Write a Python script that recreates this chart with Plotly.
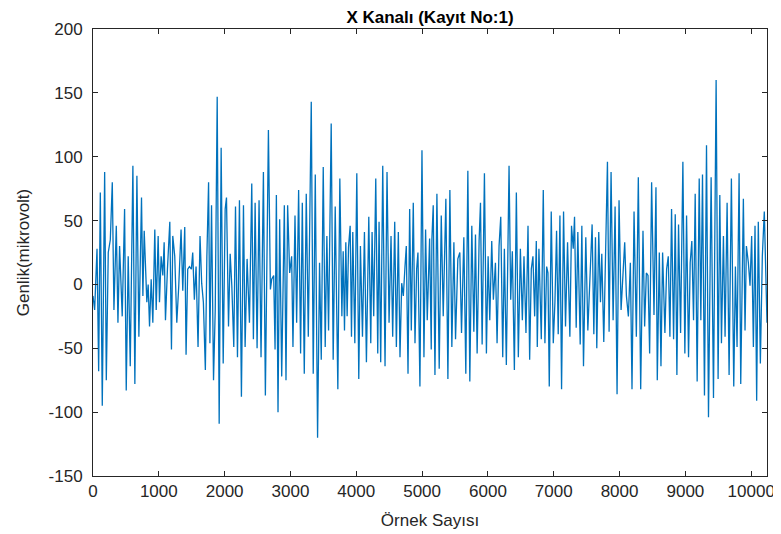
import plotly.graph_objects as go

# Peak / trough values, by segment (sample index, amplitude in microvolts)
samples_1 = [0, 25, 61, 86, 111, 141, 177, 202, 232, 263,
             293, 318, 354, 379, 404, 444, 480, 505, 535, 566,
             606, 636, 667, 697, 737, 758, 778, 798, 818, 838,
             859, 884, 909, 939, 960, 990, 1010, 1035, 1061, 1081,
             1101, 1131, 1167, 1192, 1212, 1242, 1273, 1303, 1338, 1364,
             1394, 1414, 1439, 1465, 1495, 1515, 1540, 1566, 1596, 1626,
             1651, 1677, 1707]
values_1 = [-9, -20, 28, -68, 72, -95, 88, -75, 25, 35,
            80, -20, 46, -30, 30, -25, 59, -83, 22, -64,
            93, -78, 85, -41, 68, -9, 42, 7, -14, 0,
            -33, 4, -30, 43, -20, 38, -14, 22, 7, 33,
            -28, 12, 49, -51, 38, 22, -30, -1, 43, -5,
            45, -55, 12, 14, 12, 25, -12, 14, -49, 38,
            1, -14, -67]

samples_2 = [1730, 1756, 1776, 1801, 1831, 1857, 1887, 1917, 1947, 1978,
             2008, 2028, 2059, 2084, 2109, 2139, 2165, 2195, 2225, 2255,
             2286, 2311, 2341, 2377, 2412, 2437, 2463, 2493, 2523, 2553,
             2589, 2619, 2665, 2695, 2715, 2745, 2766, 2786, 2811, 2836,
             2867, 2907, 2932, 2957, 2988, 3018, 3038, 3069, 3094, 3124,
             3154, 3180, 3210, 3240, 3271, 3316, 3346, 3377, 3412]
values_2 = [22, 80, -46, 62, -75, -20, 147, -109, 107, -62,
            59, 68, -33, 24, -1, -49, 61, -57, 66, -88,
            62, -49, 20, -30, 79, -43, 64, -50, 66, -57,
            88, -87, 121, -4, 4, 7, -51, 70, -100, 51,
            -72, 62, -75, 62, 9, 22, -49, 54, -30, 74,
            -54, 64, -70, 71, -41, 143, -70, 86, -120]

samples_3 = [3442, 3468, 3498, 3528, 3553, 3579, 3619, 3649, 3680, 3720,
             3750, 3781, 3801, 3821, 3841, 3861, 3882, 3907, 3927, 3947,
             3978, 4008, 4038, 4063, 4094, 4124, 4154, 4190, 4220, 4240,
             4265, 4296, 4326, 4346, 4371, 4402, 4437, 4467, 4498, 4528,
             4553, 4584, 4609, 4639, 4664, 4690, 4715, 4740, 4760, 4786,
             4811, 4836, 4866, 4892, 4917, 4937, 4967, 4998, 5028, 5053,
             5078, 5114, 5139]
values_3 = [17, -59, 92, -49, 38, -36, 126, -59, 61, -82,
            83, -25, 26, -36, 33, -25, 29, 46, -41, 41,
            -46, 87, -74, 30, -41, 41, -61, 53, -46, 41,
            -25, 83, -54, 49, -61, 93, -64, 88, -30, 38,
            -41, 49, -49, 41, -57, 1, -9, 14, 30, -70,
            59, -36, 64, -46, 12, 25, -80, 105, -57, 43,
            -28, 36, -51]

samples_4 = [5149, 5169, 5195, 5225, 5260, 5291, 5321, 5361, 5392, 5422,
             5452, 5483, 5508, 5543, 5573, 5599, 5634, 5664, 5695, 5725,
             5755, 5786, 5811, 5836, 5866, 5887, 5912, 5947, 5977, 6003,
             6028, 6058, 6083, 6114, 6139, 6169, 6195, 6225, 6250, 6280,
             6321, 6346, 6371, 6402, 6432, 6462, 6493, 6523, 6548, 6578,
             6609, 6634, 6659, 6684, 6710, 6735, 6750, 6775, 6811, 6841]
values_4 = [36, 62, -71, 71, -66, 54, -25, 67, -74, 74,
            -49, 33, -43, 20, 25, -38, 37, -70, 89, -76,
            46, -37, 39, -54, 34, 64, -47, 87, -54, 22,
            -28, 34, -12, 17, -46, 30, 53, -57, 28, -63,
            93, -12, 26, -67, 72, -57, 28, -28, 22, -38,
            46, -59, 12, 22, -25, 34, -49, 28, -43, 74]

samples_5 = [6866, 6892, 6912, 6932, 6962, 6993, 7018, 7043, 7068, 7094,
             7119, 7149, 7179, 7210, 7245, 7270, 7296, 7316, 7341, 7366,
             7402, 7427, 7452, 7487, 7518, 7548, 7583, 7609, 7634, 7654,
             7684, 7710, 7730, 7760, 7785, 7816, 7841, 7871, 7902, 7932,
             7962, 7992, 8023, 8048, 8078, 8104, 8134, 8164, 8189, 8220,
             8255, 8285, 8321, 8356, 8381, 8407, 8432, 8457, 8487, 8523,
             8553]
values_5 = [-46, 14, 9, -80, 57, -46, -14, 42, -39, 54,
            -82, 57, -33, 33, -41, 46, 28, 53, -34, 41,
            -47, 46, -64, 37, -36, 1, 47, -39, 37, -50,
            41, -14, 24, -45, 25, 96, -37, 88, -28, 61,
            -86, 66, -20, 7, 33, -9, -25, 17, -82, 57,
            -41, 84, -82, 42, -33, 9, 7, -54, 80, -24,
            76]

samples_6 = [8573, 8604, 8629, 8654, 8689, 8715, 8740, 8765, 8790, 8821,
             8846, 8871, 8896, 8927, 8962, 8992, 9018, 9048, 9073, 9098,
             9124, 9149, 9179, 9210, 9235, 9260, 9290, 9321, 9351, 9391,
             9427, 9467, 9497, 9523, 9548, 9578, 9603, 9634, 9664, 9699,
             9735, 9760, 9785, 9816, 9841, 9881, 9906, 9927, 9957, 9982,
             10007, 10033, 10058, 10083, 10108, 10139, 10169, 10199, 10240]
values_6 = [-75, 25, -64, 25, -38, 12, 22, -41, 59, -43,
            55, -71, 47, -38, 96, -54, 54, -57, 17, 34,
            -28, 71, -76, 83, -28, 86, -87, 109, -104, 84,
            -89, 160, -74, 70, -46, 38, -41, 64, -71, 83,
            -80, 14, -49, 87, -78, 67, -36, 30, 17, -1,
            38, -49, 46, -91, 49, -62, 22, 57, -30]

x_ticks = [0, 1000, 2000, 3000, 4000, 5000, 6000, 7000, 8000, 9000, 10000]
x_tick_labels = ["0", "1000", "2000", "3000", "4000", "5000", "6000", "7000", "8000", "9000", "10000"]
y_ticks = [-150, -100, -50, 0, 50, 100, 150, 200]
y_tick_labels = ["-150", "-100", "-50", "0", "50", "100", "150", "200"]

title_text = "X Kanalı (Kayıt No:1)"
x_title = "Örnek Sayısı"
y_title = "Genlik(mikrovolt)"

x = samples_1 + samples_2 + samples_3 + samples_4 + samples_5 + samples_6
y = values_1 + values_2 + values_3 + values_4 + values_5 + values_6
assert len(x) == len(y)

axis_col = "#262626"
font_fam = "Liberation Sans, Arial, sans-serif"

fig = go.Figure(go.Scatter(x=x, y=y, mode="lines",
                           line=dict(color="#0072BD", width=1.3),
                           showlegend=False, hoverinfo="x+y"))

# The page body adds an 8px offset, so the figure is sized to fit the 781x534 window.
fig.update_layout(
    width=773, height=526,
    margin=dict(l=85, r=14, t=21, b=58),
    paper_bgcolor="white", plot_bgcolor="white",
    font=dict(family=font_fam, size=17, color=axis_col),
    title=dict(text="<b>" + title_text + "</b>", x=0.5, xref="paper",
               xanchor="center", y=1 - 9 / 526, yref="container", yanchor="middle",
               automargin=False,
               font=dict(family=font_fam, size=17, color="black")),
)
fig.update_xaxes(range=[0, 10240], tickvals=x_ticks, ticktext=x_tick_labels,
                 ticks="inside", ticklen=5, automargin=False,
                 tickcolor=axis_col, showline=True, linecolor=axis_col, linewidth=1,
                 mirror="ticks", showgrid=False, zeroline=False,
                 title=dict(text=x_title, standoff=13, font=dict(size=17)))
fig.update_yaxes(range=[-150, 200], tickvals=y_ticks, ticktext=y_tick_labels,
                 ticks="inside", ticklen=5, automargin=False,
                 tickcolor=axis_col, showline=True, linecolor=axis_col, linewidth=1,
                 mirror="ticks", showgrid=False, zeroline=False,
                 ticklabelstandoff=6,
                 title=dict(text=y_title, standoff=14, font=dict(size=17)))

fig.write_html("out.html")
